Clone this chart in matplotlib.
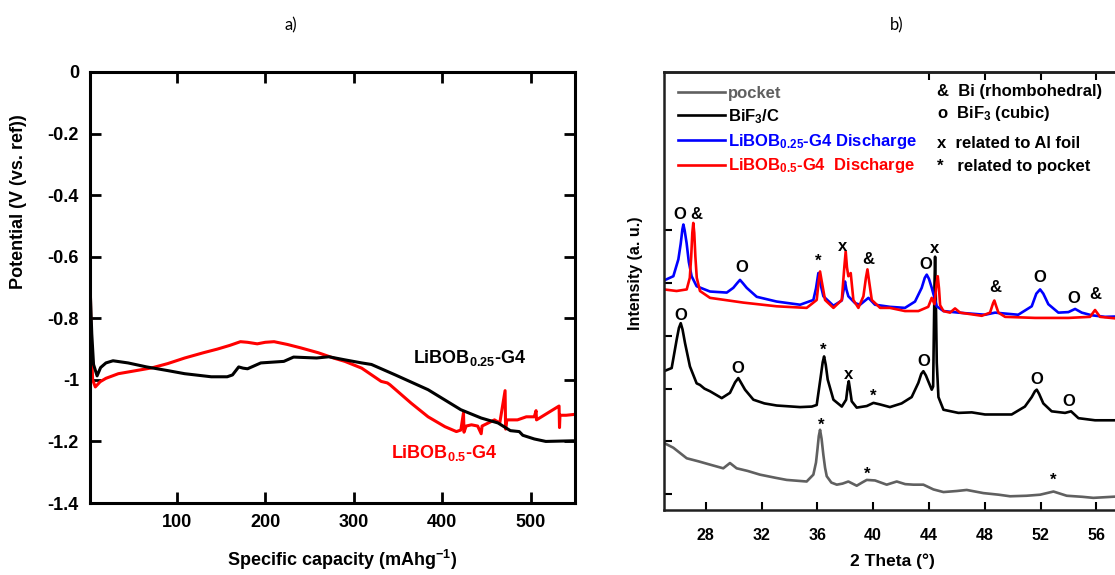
import matplotlib
matplotlib.use('Agg')
from matplotlib import pyplot as plt

plt.rcParams['font.family'] = ['Liberation Sans', 'DejaVu Sans']
plt.rcParams['mathtext.default'] = 'regular'

# a) potential vs specific capacity
cap_025 = [2, 4, 6, 10, 14, 20, 28, 45, 66, 90, 109, 139, 157, 163, 170, 175, 180, 195, 221, 232,
           258, 272, 290, 309, 320, 347, 384, 421, 444, 463, 477, 487, 491, 504, 517, 547, 550]
v_025 = [-0.69, -0.85, -0.95, -0.987, -0.96, -0.945, -0.938, -0.945, -0.958, -0.97, -0.98, -0.99,
         -0.99, -0.984, -0.958, -0.962, -0.964, -0.945, -0.94, -0.926, -0.929, -0.925, -0.935, -0.945,
         -0.95, -0.984, -1.032, -1.097, -1.124, -1.14, -1.165, -1.168, -1.18, -1.192, -1.2, -1.198, -1.198]

cap_05 = [2, 3, 5, 8, 13.5, 20, 34, 50, 72, 90, 109, 130, 146, 160, 172, 180, 191, 200, 210, 225,
          240, 260, 277, 290, 309, 331, 338, 341, 365, 384, 403, 416, 421, 424, 424.6, 427, 433, 440,
          444, 445, 452, 459, 465, 471, 471.6, 473, 485, 495, 504, 506, 506.5, 515, 532, 532.5, 533,
          540, 550]
v_05 = [-0.59, -0.85, -1.0, -1.023, -1.006, -0.995, -0.98, -0.972, -0.961, -0.947, -0.929, -0.912,
        -0.9, -0.888, -0.876, -0.878, -0.883, -0.878, -0.876, -0.885, -0.896, -0.912, -0.929, -0.94,
        -0.962, -1.005, -1.01, -1.016, -1.076, -1.12, -1.152, -1.168, -1.163, -1.107, -1.17, -1.15,
        -1.146, -1.15, -1.175, -1.15, -1.14, -1.13, -1.14, -1.035, -1.16, -1.13, -1.13, -1.12, -1.12,
        -1.1, -1.13, -1.115, -1.085, -1.155, -1.115, -1.115, -1.112]

cap_ticks = [100, 200, 300, 400, 500]
v_ticks = [0, -0.2, -0.4, -0.6, -0.8, -1, -1.2, -1.4]
v_labels = ['0', '-0.2', '-0.4', '-0.6', '-0.8', '-1', '-1.2', '-1.4']

# b) XRD patterns
tt_pocket = [25.0, 25.67, 26.63, 27.5, 28.3, 29.25, 29.73, 30.21, 31.0, 31.88, 33.0, 33.8, 35.23,
             35.71, 35.9, 36.0, 36.1, 36.19, 36.3, 36.43, 36.55, 36.67, 37.0, 37.39, 37.8, 38.22,
             38.82, 39.2, 39.54, 40.13, 40.97, 41.69, 42.3, 42.89, 43.6, 44.32, 45.04, 46.0, 46.71,
             47.91, 49.0, 49.82, 51.0, 51.97, 52.93, 53.88, 55.0, 55.79, 57.8]
i_pocket = [1.97, 1.88, 1.68, 1.62, 1.56, 1.49, 1.59, 1.49, 1.44, 1.37, 1.31, 1.27, 1.24,
            1.37, 1.6, 1.84, 2.1, 2.22, 2.05, 1.74, 1.5, 1.34, 1.22, 1.18, 1.2, 1.24,
            1.16, 1.22, 1.27, 1.26, 1.18, 1.24, 1.19, 1.18, 1.18, 1.09, 1.04, 1.06, 1.08,
            1.02, 0.99, 0.96, 0.97, 0.99, 1.05, 0.97, 0.95, 0.93, 0.96]

tt_bif3 = [25.0, 25.55, 25.91, 26.07, 26.2, 26.33, 26.51, 26.86, 27.34, 27.58, 27.9, 28.3, 29.14,
           29.73, 30.1, 30.33, 30.55, 30.81, 31.41, 32.2, 33.08, 34.76, 35.6, 35.95, 36.24, 36.38,
           36.48, 36.6, 36.74, 37.15, 37.75, 38.06, 38.18, 38.25, 38.33, 38.46, 38.82, 39.54, 40.02,
           40.5, 41.2, 42.04, 42.76, 43.24, 43.45, 43.6, 43.78, 43.95, 44.2, 44.3, 44.4, 44.44, 44.5,
           44.56, 44.68, 45.04, 46.11, 47.07, 48.02, 49.93, 50.88, 51.37, 51.6, 51.73, 51.9, 52.2,
           52.8, 53.76, 54.19, 54.72, 55.91, 57.8]
i_bif3 = [3.33, 3.39, 3.93, 4.15, 4.24, 4.12, 3.86, 3.42, 3.1, 3.07, 3.0, 2.95, 2.82,
          2.92, 3.12, 3.2, 3.1, 2.98, 2.79, 2.72, 2.68, 2.65, 2.66, 2.69, 3.23, 3.5,
          3.61, 3.45, 3.17, 2.79, 2.66, 2.79, 3.05, 3.14, 3.0, 2.76, 2.64, 2.67, 2.73,
          2.70, 2.65, 2.72, 2.84, 3.11, 3.28, 3.33, 3.25, 3.14, 2.98, 3.04, 5.0, 5.5, 4.6,
          3.49, 2.84, 2.6, 2.54, 2.55, 2.51, 2.51, 2.66, 2.84, 2.95, 2.98, 2.9, 2.72,
          2.57, 2.54, 2.57, 2.44, 2.4, 2.4]

tt_025 = [25.0, 25.67, 26.03, 26.2, 26.32, 26.39, 26.48, 26.62, 26.78, 26.98, 27.34, 28.3, 29.5,
          29.97, 30.25, 30.45, 30.65, 30.93, 31.65, 33.08, 34.76, 35.71, 35.9, 36.07, 36.25, 36.43,
          37.15, 37.75, 37.9, 37.98, 38.08, 38.22, 38.7, 39.06, 39.66, 40.13, 41.2, 42.28, 43.0,
          43.48, 43.7, 43.84, 44.0, 44.2, 44.56, 45.04, 46.11, 48.02, 48.74, 50.4, 51.37, 51.7,
          51.97, 52.2, 52.56, 53.28, 54.0, 54.48, 54.96, 55.67, 56.63, 57.8]
i_025 = [5.05, 5.13, 5.45, 5.75, 6.02, 6.11, 6.0, 5.76, 5.4, 5.13, 4.94, 4.84, 4.82,
         4.91, 5.0, 5.06, 5.0, 4.91, 4.74, 4.65, 4.59, 4.68, 4.9, 5.19, 4.95, 4.75,
         4.57, 4.67, 4.9, 5.03, 4.88, 4.75, 4.62, 4.59, 4.72, 4.59, 4.55, 4.53, 4.65,
         4.91, 5.1, 5.16, 5.08, 4.91, 4.56, 4.47, 4.44, 4.40, 4.44, 4.40, 4.56, 4.8,
         4.88, 4.8, 4.6, 4.44, 4.45, 4.51, 4.44, 4.39, 4.36, 4.37]

tt_05 = [25.0, 25.9, 26.63, 26.85, 26.95, 27.03, 27.1, 27.17, 27.25, 27.35, 27.58, 28.3, 30.69,
         33.08, 35.23, 35.95, 36.1, 36.19, 36.3, 36.55, 37.15, 37.75, 37.93, 38.03, 38.12, 38.22,
         38.39, 38.58, 38.94, 39.3, 39.48, 39.59, 39.7, 39.9, 40.5, 41.2, 42.28, 43.24, 43.95, 44.2,
         44.4, 44.55, 44.63, 44.72, 44.8, 45.04, 45.51, 45.87, 46.23, 47.79, 48.38, 48.6, 48.69,
         48.8, 48.98, 49.46, 51.61, 54.0, 55.55, 55.91, 56.27, 57.8]
i_05 = [4.88, 4.85, 4.88, 5.1, 5.5, 5.95, 6.14, 5.95, 5.5, 5.1, 4.85, 4.72, 4.63,
        4.56, 4.53, 4.68, 5.05, 5.22, 5.05, 4.68, 4.53, 4.68, 5.3, 5.6, 5.3, 5.13,
        5.19, 4.68, 4.53, 4.75, 5.1, 5.26, 5.05, 4.68, 4.53, 4.53, 4.47, 4.47, 4.55, 4.72,
        4.6, 5.0, 5.13, 4.9, 4.58, 4.47, 4.44, 4.52, 4.44, 4.38, 4.44, 4.62, 4.67,
        4.58, 4.44, 4.36, 4.34, 4.34, 4.36, 4.49, 4.36, 4.32]

# peak markers: (2theta, intensity, symbol)
peak_tt = [26.15, 27.3, 30.57, 36.07, 37.82, 39.66, 43.77, 44.39, 48.74, 51.97, 54.36, 55.92,
           26.2, 30.26, 36.38, 38.22, 40.01, 43.6, 51.74, 54.0,
           36.24, 39.58, 52.88]
peak_i = [6.3, 6.3, 5.29, 5.41, 5.69, 5.45, 5.35, 5.65, 4.91, 5.1, 4.7, 4.78,
          4.38, 3.39, 3.72, 3.26, 2.85, 3.52, 3.17, 2.76,
          2.31, 1.38, 1.26]
peak_sym = ['O', '&', 'O', '*', 'x', '&', 'O', 'x', '&', 'O', 'O', '&',
            'O', 'O', '*', 'x', '*', 'O', 'O', 'O',
            '*', '*', '*']

tt_ticks = [28, 32, 36, 40, 44, 48, 52, 56]

fig = plt.figure(figsize=(11.15, 5.75), dpi=100)

# ---- panel a
ax = fig.add_axes([90 / 1115, 1 - 503 / 575, 485 / 1115, 431 / 575])
ax.plot(cap_025, v_025, color='black', lw=2.2, zorder=3)
ax.plot(cap_05, v_05, color='#ff0000', lw=2.2, zorder=2)
ax.set_xlim(2, 550)
ax.set_ylim(-1.4, 0)
ax.set_xticks(cap_ticks)
ax.set_xticklabels([str(c) for c in cap_ticks], fontsize=13, fontweight='bold')
ax.set_yticks(v_ticks)
ax.set_yticklabels(v_labels, fontsize=13, fontweight='bold')
ax.tick_params(direction='in', length=8, width=2, top=True, right=True, pad=8)
for s in ax.spines.values():
    s.set_linewidth(2.2)
ax.set_ylabel('Potential (V (vs. ref))', fontsize=13, fontweight='bold')
ax.yaxis.set_label_coords(-0.13, 0.70)
ax.set_xlabel('Specific capacity (mAhg$^{-1}$)', fontsize=13, fontweight='bold')
ax.xaxis.set_label_coords(0.52, -0.105)
ax.text(367, -0.945, 'LiBOB$_{0.25}$-G4', fontsize=13, fontweight='bold', color='black')
ax.text(342, -1.253, 'LiBOB$_{0.5}$-G4', fontsize=13, fontweight='bold', color='#ff0000')

# ---- panel b
bx = fig.add_axes([664 / 1115, 1 - 510 / 575, 456 / 1115, 438 / 575])
bx.plot(tt_pocket, i_pocket, color='#606060', lw=1.9, label='pocket')
bx.plot(tt_bif3, i_bif3, color='black', lw=1.9, label='BiF$_3$/C')
bx.plot(tt_025, i_025, color='#0000ff', lw=1.9, label='LiBOB$_{0.25}$-G4 Discharge')
bx.plot(tt_05, i_05, color='#ff0000', lw=1.9, label='LiBOB$_{0.5}$-G4  Discharge')
for t, i, s in zip(peak_tt, peak_i, peak_sym):
    bx.text(t, i, s, ha='center', va='center', fontsize=12, fontweight='bold')
bx.set_xlim(25, 57.7)
bx.set_ylim(0.7, 9.0)
bx.set_xticks(tt_ticks)
bx.set_xticklabels([str(t) for t in tt_ticks], fontsize=11.5, fontweight='bold')
bx.set_yticks([1, 2, 3, 4, 5, 6])
bx.set_yticklabels([])
bx.tick_params(direction='in', length=6, width=1.5, pad=13)
top = bx.secondary_xaxis('top')
top.set_xticks([44, 48, 52, 56])
top.set_xticklabels([])
top.tick_params(direction='in', length=6, width=1.5)
for s in list(bx.spines.values()) + list(top.spines.values()):
    s.set_linewidth(1.8)
    s.set_color('#202020')
bx.set_ylabel('Intensity (a. u.)', fontsize=11.5, fontweight='bold')
bx.yaxis.set_label_coords(-0.045, 0.54)
bx.set_xlabel('2 Theta (°)', fontsize=12.5, fontweight='bold')
bx.xaxis.set_label_coords(0.5, -0.1)
leg = bx.legend(loc='upper left', frameon=False, labelcolor='linecolor',
                prop={'size': 12, 'weight': 'bold'}, handlelength=2.8, handletextpad=0.2,
                labelspacing=0.35, borderaxespad=0.55, borderpad=0.3)
key_rows = ['&  Bi (rhombohedral)', 'o  BiF$_3$ (cubic)', 'x  related to Al foil', '*   related to pocket']
key_y = [0.955, 0.906, 0.836, 0.785]
for txt, y in zip(key_rows, key_y):
    bx.text(0.599, y, txt, transform=bx.transAxes, fontsize=12, fontweight='bold', va='center')

fig.text(291 / 1115, 1 - 25 / 575, 'a)', ha='center', va='center', fontsize=12, family='Lato')
fig.text(897 / 1115, 1 - 25 / 575, 'b)', ha='center', va='center', fontsize=12, family='Lato')

fig.savefig('out.png', dpi=100)
